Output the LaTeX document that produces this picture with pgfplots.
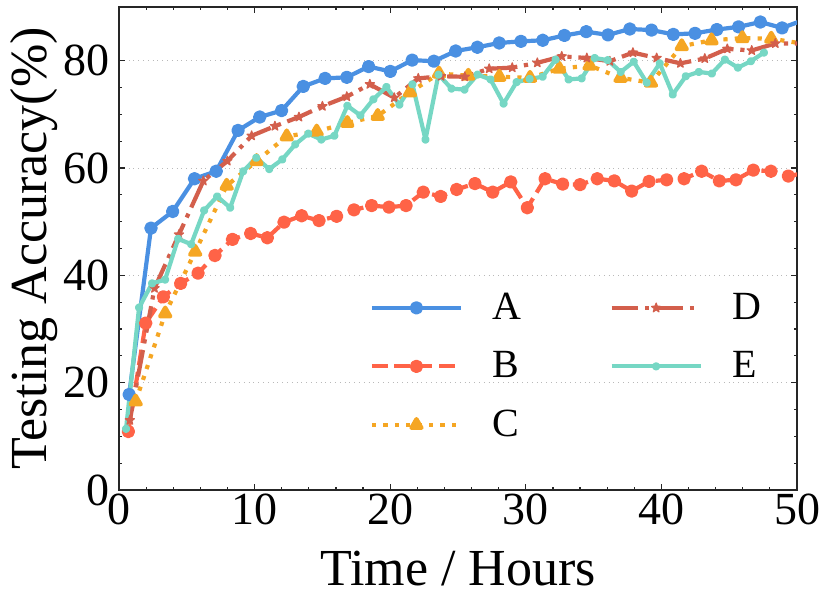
\documentclass[border=0pt]{standalone}
\usepackage{pgfplots}
\pgfplotsset{compat=1.18}
\usepackage{fontspec}
\setmainfont{Liberation Serif}
\definecolor{cA}{HTML}{4A90E2}
\definecolor{cB}{HTML}{FF6347}
\definecolor{cC}{HTML}{F5A623}
\definecolor{cD}{HTML}{D35F4C}
\definecolor{cE}{HTML}{76D7C4}
\pgfdeclareplotmark{fstar}{%
  \pgfpathmoveto{\pgfpointpolar{90}{\pgfplotmarksize}}%
  \pgfpathlineto{\pgfpointpolar{126}{0.42\pgfplotmarksize}}%
  \pgfpathlineto{\pgfpointpolar{162}{\pgfplotmarksize}}%
  \pgfpathlineto{\pgfpointpolar{198}{0.42\pgfplotmarksize}}%
  \pgfpathlineto{\pgfpointpolar{234}{\pgfplotmarksize}}%
  \pgfpathlineto{\pgfpointpolar{270}{0.42\pgfplotmarksize}}%
  \pgfpathlineto{\pgfpointpolar{306}{\pgfplotmarksize}}%
  \pgfpathlineto{\pgfpointpolar{342}{0.42\pgfplotmarksize}}%
  \pgfpathlineto{\pgfpointpolar{18}{\pgfplotmarksize}}%
  \pgfpathlineto{\pgfpointpolar{54}{0.42\pgfplotmarksize}}%
  \pgfpathclose\pgfusepathqfillstroke}
\pgfplotsset{
  sA/.style={color=cA, line width=2.1pt, line join=round, mark=*, mark size=2.3pt, mark options={solid}},
  sB/.style={color=cB, line width=2.1pt, line join=round, dash pattern=on 7.8pt off 3.4pt, mark=*, mark size=2.3pt, mark options={solid}},
  sC/.style={color=cC, line width=2.1pt, line join=round, dash pattern=on 2.1pt off 3.6pt, mark=triangle*, mark size=2.9pt, mark options={solid}},
  sD/.style={color=cD, line width=2.1pt, line join=round, dash pattern=on 13.4pt off 3.4pt on 2.1pt off 3.4pt, mark=fstar, mark size=2.4pt, mark options={solid, line width=0.6pt}},
  sE/.style={color=cE, line width=2.1pt, line join=round, mark=*, mark size=1.0pt, mark options={solid}},
}
\begin{document}
\begin{tikzpicture}
\begin{axis}[
  at={(0,0)}, anchor=south west,
  scale only axis, width=339pt, height=241.5pt,
  xmin=0, xmax=50, ymin=0, ymax=90,
  xtick={0,10,...,50}, ytick={0,20,...,80},
  minor x tick num=4, minor y tick num=3,
  tick align=inside,
  major tick length=3pt, minor tick length=1.7pt,
  every tick/.style={black!85, line width=0.6pt},
  axis line style={line width=0.6pt, black!85},
  ymajorgrids, grid style={dotted, gray!55, line width=0.5pt},
  /pgf/number format/assume math mode=true,
  ticklabel style={font=\fontsize{23}{27}\selectfont},
  yticklabel style={inner xsep=0pt, xshift=-4.5pt},
  xticklabel style={inner ysep=0pt, yshift=-1.7pt},
  xlabel={Time / Hours}, ylabel={Testing Accuracy(\%)},
  every axis x label/.style={at={(axis description cs:0.5,-0.1967)}, anchor=base, font=\fontsize{26}{30}\selectfont},
  every axis y label/.style={at={(axis description cs:-0.1068,0.5)}, anchor=base, rotate=90, font=\fontsize{26}{30}\selectfont},
  legend columns=2,
  legend image code/.code={\draw[mark repeat=2,mark phase=2,#1] plot coordinates {(0pt,0pt) (22.25pt,0pt) (44.5pt,0pt)};},
  legend style={at={(0.370,0.4075)}, anchor=north west, draw=none, fill=none,
    inner sep=0pt, outer sep=0pt, font=\fontsize{20}{24}\selectfont,
    row sep=14.6pt,
    nodes={inner sep=0pt, anchor=west},
    /tikz/every odd column/.append style={column sep=14.8pt},
    /tikz/every even column/.append style={column sep=44pt}},
]
\addplot[sA, forget plot] coordinates {(0.75,17.8)(2.36,48.8)(3.96,51.9)(5.57,58.0)(7.17,59.4)(8.78,67.0)(10.38,69.5)(11.99,70.7)(13.59,75.2)(15.20,76.7)(16.80,76.9)(18.41,78.9)(20.01,78.0)(21.62,80.1)(23.22,79.9)(24.83,81.8)(26.43,82.5)(28.04,83.3)(29.64,83.6)(31.25,83.8)(32.85,84.7)(34.46,85.4)(36.06,84.8)(37.67,85.9)(39.27,85.7)(40.88,84.9)(42.48,85.1)(44.09,85.8)(45.69,86.3)(47.30,87.2)(48.90,86.1)(50.51,87.6)};
\addplot[sB, forget plot] coordinates {(0.69,10.9)(1.97,31.1)(3.27,36.0)(4.55,38.5)(5.83,40.4)(7.08,43.7)(8.37,46.7)(9.71,47.8)(10.94,47.0)(12.17,49.9)(13.47,51.1)(14.75,50.2)(16.05,51.0)(17.33,52.2)(18.63,53.0)(19.91,52.7)(21.17,53.0)(22.44,55.5)(23.72,54.7)(24.90,56.0)(26.25,57.1)(27.56,55.5)(28.89,57.4)(30.11,52.6)(31.42,58.0)(32.72,57.0)(34.00,56.9)(35.27,58.0)(36.53,57.6)(37.81,55.7)(39.09,57.5)(40.39,57.8)(41.67,58.0)(42.97,59.4)(44.27,57.6)(45.50,57.8)(46.78,59.6)(48.08,59.4)(49.36,58.5)(50.64,59.1)};
\addplot[sC, forget plot] coordinates {(1.23,16.5)(3.41,32.9)(5.62,44.4)(7.94,56.7)(10.15,61.3)(12.37,65.9)(14.58,66.8)(16.84,68.4)(19.08,69.7)(21.46,74.1)(23.60,77.6)(25.76,77.2)(28.05,77.0)(30.31,76.8)(32.47,78.5)(34.70,79.1)(36.99,76.8)(39.23,75.9)(41.50,82.7)(43.70,83.8)(45.97,84.2)(48.10,84.1)(50.35,83.2)};
\addplot[sD, forget plot] coordinates {(0.80,13.0)(2.62,37.6)(4.42,47.6)(6.22,57.6)(7.99,61.3)(9.78,66.0)(11.50,67.8)(13.27,69.5)(15.00,71.5)(16.80,73.3)(18.50,75.6)(20.30,73.1)(22.07,76.7)(23.75,77.1)(25.50,77.0)(27.30,78.5)(29.00,78.7)(30.85,79.6)(32.65,80.8)(34.50,80.5)(36.20,79.9)(37.90,81.5)(39.65,80.5)(41.40,79.5)(43.20,80.4)(44.86,82.2)(46.66,81.9)(48.40,83.2)(50.20,83.2)};
\addplot[sE, forget plot] coordinates {(0.52,11.4)(1.48,34.0)(2.44,38.5)(3.40,39.2)(4.36,46.8)(5.32,45.8)(6.28,52.1)(7.24,54.7)(8.20,52.6)(9.16,59.4)(10.12,61.9)(11.08,59.8)(12.04,61.6)(13.00,64.4)(13.96,66.4)(14.92,65.3)(15.88,66.0)(16.84,71.6)(17.80,69.8)(18.76,72.8)(19.72,75.1)(20.68,71.8)(21.64,75.6)(22.60,65.3)(23.56,77.4)(24.52,74.8)(25.48,74.6)(26.44,77.4)(27.40,76.5)(28.36,72.0)(29.32,76.0)(30.28,76.6)(31.24,77.0)(32.20,80.2)(33.16,76.5)(34.12,76.7)(35.08,80.5)(36.04,80.1)(37.00,77.9)(37.96,79.8)(38.92,75.9)(39.88,79.5)(40.84,73.7)(41.80,77.1)(42.76,77.9)(43.72,77.6)(44.68,80.2)(45.64,78.7)(46.60,79.9)(47.56,81.5)};
\addlegendimage{sA}\addlegendentry{A}
\addlegendimage{sD}\addlegendentry{D}
\addlegendimage{sB}\addlegendentry{B}
\addlegendimage{sE}\addlegendentry{E}
\addlegendimage{sC}\addlegendentry{C}
\end{axis}
\pgfresetboundingbox
\useasboundingbox (-59.5pt,-57pt) rectangle (355.5pt,245pt);
\end{tikzpicture}
\end{document}
